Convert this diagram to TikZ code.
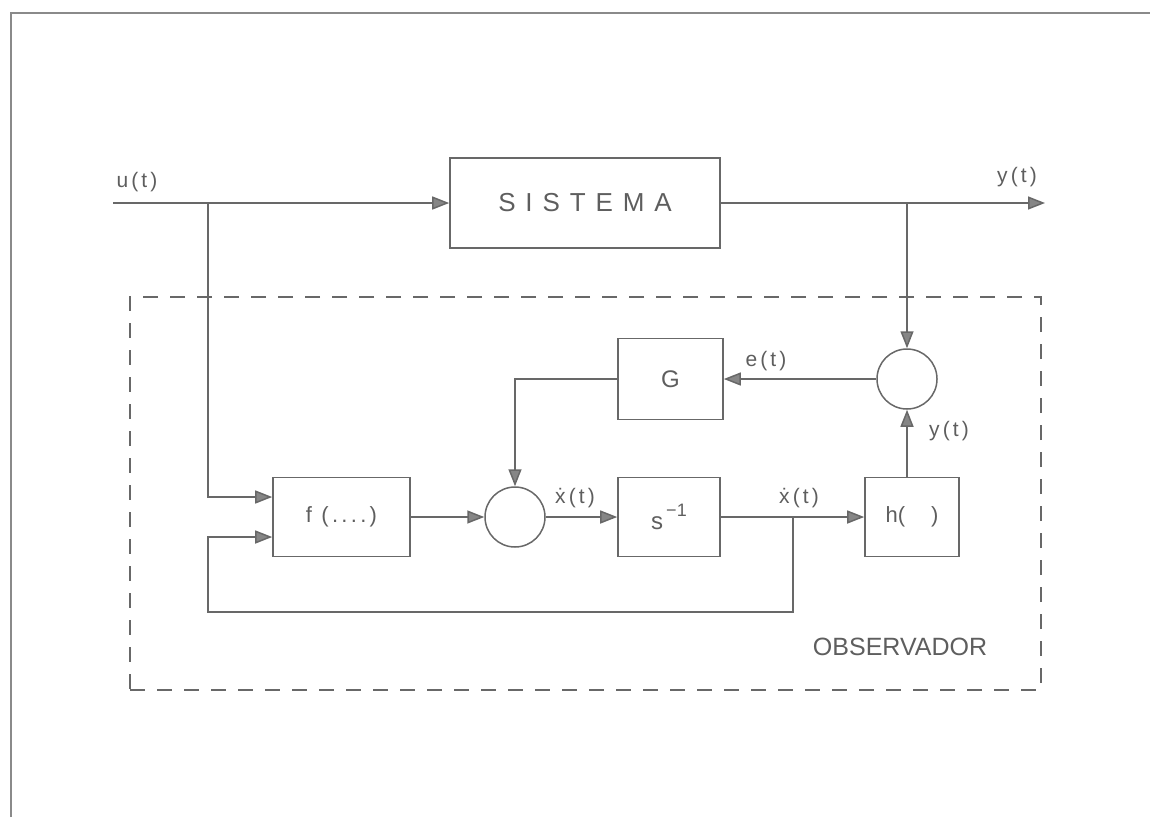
\documentclass[tikz,border=0pt]{standalone}
\usepackage{fontspec}
\setmainfont{Liberation Sans}
\usetikzlibrary{arrows.meta,calc}
\definecolor{linec}{HTML}{686868}
\definecolor{textc}{HTML}{5E5E5E}
\definecolor{framec}{HTML}{8A8A8A}
\tikzset{
  blk/.style={draw=linec, line width=1.6pt, inner sep=0pt, text=textc},
  sumc/.style={circle, draw=linec, line width=1.5pt, minimum size=60pt, inner sep=0pt},
  conn/.style={draw=linec, line width=1.5pt},
  arr/.style={conn, -{Triangle[length=17pt,width=13pt,fill=linec!80]}},
  lbl/.style={text=textc, inner sep=0pt, font={\fontsize{21}{24}\selectfont\addfontfeature{LetterSpace=15}}},
  bigl/.style={text=textc, inner sep=0pt, font={\fontsize{25}{28}\selectfont}},
  obsbox/.style={draw=linec, line width=1.4pt, dash pattern=on 15pt off 12pt, inner sep=0pt}
}
\begin{document}
\begin{tikzpicture}[x=1pt,y=-1pt]
\useasboundingbox (0,0) rectangle (1150,817);
% frame (scan edges)
\draw[framec, line width=1.6pt] (11,817) -- (11,13) -- (1150,13);

% observer dashed region
\node[obsbox, minimum width=911pt, minimum height=393pt] (obs) at (585.5,493.5) {};
\node[bigl] (obsl) at (900,647) {OBSERVADOR};

% blocks
\node[blk, minimum width=270pt, minimum height=90pt,
      font={\fontsize{26}{28}\selectfont\addfontfeature{LetterSpace=38}}] (sis) at (585,203) {SISTEMA};
\node[blk, minimum width=105pt, minimum height=81pt, font={\fontsize{24}{26}\selectfont}] (G) at (670.5,379) {G};
\node[blk, minimum width=137pt, minimum height=79pt,
      font={\fontsize{22}{24}\selectfont\addfontfeature{LetterSpace=15}}] (f) at (341.5,517) {f (....)};
\node[blk, minimum width=102pt, minimum height=79pt, font={\fontsize{24}{26}\selectfont}] (s) at (669,517)
      {s\raisebox{13pt}{\fontsize{18}{18}\selectfont\,−1}};
\node[blk, minimum width=94pt, minimum height=79pt,
      font={\fontsize{22}{24}\selectfont}] (h) at (912,517) {h(\hspace{26pt})};

% summing junctions
\node[sumc] (c1) at (515,517) {};
\node[sumc] (c2) at (907,379) {};

% free ends / branch points
\coordinate (uin) at (113,203);
\coordinate (ub) at (208,203);
\coordinate (yout) at (1045,203);
\coordinate (yb) at (907,203);
\coordinate (xb) at (793,517);
\coordinate (fbc) at (208,612);

% connectors
\draw[arr] (uin) -- (sis.west);
\draw[arr] (ub) |- ([yshift=20pt]f.west);
\draw[arr] (sis.east) -- (yout);
\draw[arr] (yb) -- (c2.north);
\draw[arr] (f.east) -- (c1.west);
\draw[arr] (c1.east) -- (s.west);
\draw[arr] (s.east) -- (h.west);
\draw[arr] (xb) |- (fbc) |- ([yshift=-20pt]f.west);
\draw[arr] (c2.south |- h.north) -- (c2.south);
\draw[arr] (c2.west) -- (G.east);
\draw[arr] (G.west) -| (c1.north);

% labels
\node[lbl] (lu) at (137,182) {u(t)};
\node[lbl] (ly) at (1017,177) {y(t)};
\node[lbl] (le) at (766,361) {e(t)};
\node[lbl] (ly2) at (949,431) {y(t)};
\node[lbl] (lx1) at (575,498) {\.{x}(t)};
\node[lbl] (lx2) at (799,498) {\.{x}(t)};
\end{tikzpicture}
\end{document}
